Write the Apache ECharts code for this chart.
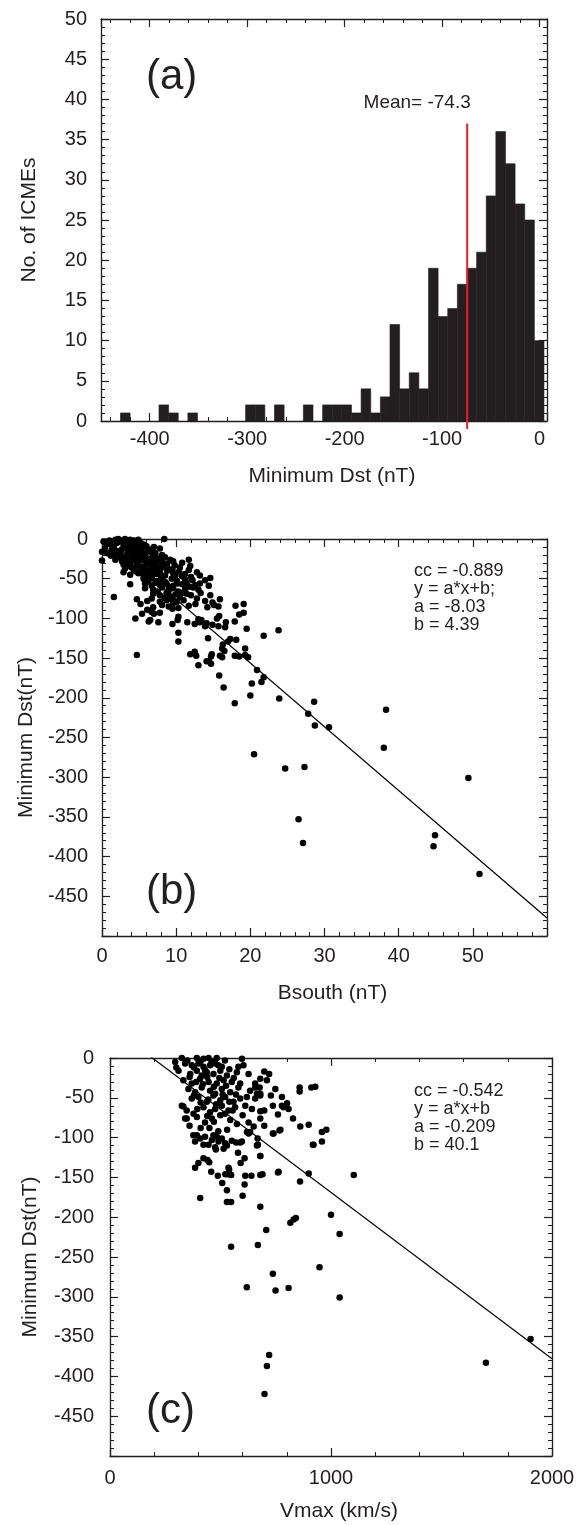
<!DOCTYPE html>
<html><head><meta charset="utf-8">
<script src="https://cdn.jsdelivr.net/npm/echarts@6/dist/echarts.min.js"></script>
<style>html,body{margin:0;padding:0;background:#fff}#c{width:581px;height:1525px}</style>
</head><body><div id="c"></div>
<script>
// ---------- Panel (a): histogram of minimum Dst ----------
const histCounts = [1,0,0,0,2,1,0,1,0,0,0,0,0,2,2,0,2,0,0,2,0,2,2,2,1,4,1,3,12,4,6,4,19,13,14,17,19,21,28,36,32,27,25,10];
const histRange = [-430, 4.5];          // outer edges of the 44 bins
const meanDst = -74.3;
const meanLineSpan = [37, -1];          // red line from count 37 down past the axis
const histXRange = [-450, 7.6];
const histYRange = [0, 50];

// ---------- Panel (b): Bsouth vs minimum Dst ----------
const bPts = [
[0.2,-3],[1.8,-1],[2.2,0],[2.7,-2],[3.1,0],[3.8,-1],[4.3,-2],[4.9,-1],[8.4,0],
[1.1,-6],[2.0,-5],[2.9,-7],[3.6,-6],[4.3,-8],[5.2,-5],[5.6,-7],
[0.4,-12],[1.6,-11],[2.7,-13],[3.1,-10],[4.0,-12],[4.7,-14],[5.6,-11],[6.7,-13],[7.8,-12],
[0.0,-16],[0.7,-18],[2.5,-17],[3.4,-19],[3.8,-16],[4.5,-18],[5.2,-17],[5.8,-19],[6.5,-16],[7.2,-18],[8.1,-20],
[2.2,-22],[3.1,-24],[4.0,-21],[4.7,-23],[5.6,-22],[6.3,-25],[6.9,-21],[7.4,-24],[8.5,-23],
[0.0,-27],[1.8,-26],[2.7,-28],[3.1,-29],[4.3,-27],[5.2,-26],[5.8,-28],[6.5,-30],[7.4,-27],[8.1,-29],[9.2,-26],[9.6,-28],[10.8,-30],[11.7,-26],
[2.9,-32],[3.4,-34],[3.8,-31],[4.7,-33],[5.4,-35],[6.1,-32],[6.7,-34],[7.2,-31],[7.6,-35],[8.3,-33],[11.9,-34],
[3.1,-37],[4.3,-39],[5.2,-36],[5.8,-38],[6.3,-40],[6.9,-37],[7.4,-39],[8.1,-36],[9.0,-38],[10.5,-36],[11.7,-39],
[2.9,-42],[3.8,-45],[4.9,-43],[5.6,-46],[6.3,-42],[6.7,-47],[7.4,-44],[7.8,-42],[8.5,-46],[9.6,-43],[10.8,-47],[12.8,-42],[13.2,-46],
[5.6,-50],[6.3,-52],[6.7,-49],[7.4,-53],[8.1,-51],[9.4,-50],[10.1,-53],[11.2,-51],[13.9,-52],[14.6,-49],
[3.8,-57],[5.8,-56],[6.7,-59],[7.2,-55],[7.8,-58],[8.7,-56],[9.6,-59],[10.8,-57],[11.4,-55],[12.6,-58],[13.2,-56],[14.4,-59],
[1.6,-73],[5.8,-62],[6.9,-64],[8.1,-61],[9.0,-65],[9.6,-62],[10.3,-66],[11.2,-63],[12.3,-61],[13.0,-64],
[6.9,-69],[7.8,-71],[8.7,-68],[9.2,-72],[9.9,-70],[10.5,-73],[11.4,-69],[14.6,-71],
[4.7,-76],[6.1,-78],[6.7,-75],[7.8,-79],[8.7,-77],[9.4,-76],[10.1,-79],[11.0,-77],[12.8,-75],[13.9,-78],[15.9,-76],
[5.2,-82],[6.9,-86],[8.1,-83],[9.0,-85],[9.6,-81],[10.3,-87],[11.7,-84],[12.6,-82],[14.2,-86],[15.1,-83],[15.7,-85],[18.0,-84],[19.1,-82],
[9.5,-88],[5.4,-94],[6.1,-89],[7.0,-94],[6.7,-92],[7.8,-93],[6.3,-104],[6.5,-102],[7.6,-105],[9.5,-107],[10.3,-98],[10.2,-102],
[11.5,-105],[12.5,-107],[13.2,-105],[13.0,-101],[13.4,-102],[14.1,-106],[13.9,-110],[14.9,-108],[15.7,-110],[14.9,-80],
[15.8,-97],[15.5,-100],[16.7,-105],[16.6,-111],[17.9,-104],[18.5,-95],[19.1,-93],[19.5,-113],[21.8,-122],[23.8,-115],
[10.3,-118],[10.3,-129],[14.3,-125],[17.0,-129],[16.3,-133],[17.3,-126],[18.1,-127],[16.2,-138],[16.5,-141],[15.9,-147],
[16.2,-149],[11.9,-145],[12.5,-142],[12.7,-147],[13.0,-159],[14.1,-154],[14.8,-145],[14.7,-148],[14.7,-157],[14.4,-154],
[17.9,-147],[18.5,-148],[19.3,-146],[19.7,-149],[19.3,-138],[20.9,-165],[21.8,-174],[21.5,-180],[20.2,-182],[15.8,-172],
[16.4,-187],[17.9,-207],[20.0,-197],[23.9,-201],[4.5,-100],[4.7,-146],
[28.6,-205],[27.8,-220],[28.7,-235],[30.6,-237],[38.3,-215],[38.0,-263],[20.5,-271],[24.7,-289],[27.3,-287],
[26.5,-353],[27.1,-383],[49.4,-301],[44.9,-373],[44.7,-387],[50.9,-422],
[1.0,-2],[1.4,-9],[2.4,-3],[3.4,-3],[4.0,-5],[4.6,-4],[0.6,-7],[1.3,-14],[2.0,-15],[3.5,-13],[5.0,-10],[6.0,-9],
[6.2,-14],[7.0,-10],[1.2,-21],[1.8,-19],[2.6,-24],[3.6,-27],[4.9,-30],[5.4,-20],[6.0,-24],[7.0,-28],[7.9,-26],
[8.8,-31],[9.8,-33],[4.0,-36],[4.6,-41],[5.5,-41],[6.0,-45],[7.0,-42],[8.0,-48],[8.8,-40],[9.5,-38],[9.9,-46],
[10.4,-41],[11.2,-44],[12.0,-48],[6.0,-54],[8.5,-54],[9.0,-60],[10.2,-56],[11.8,-60],[12.2,-52],[7.5,-66],
[8.4,-74],[10.8,-68],[12.0,-71],[13.3,-68]
];
const fitB = {cc: '-0.889', a: -8.03, b: 4.39, eq: 'y = a*x+b;'};
const bXRange = [0, 60];

// ---------- Panel (c): Vmax vs minimum Dst ----------
const cPts = [
[529,-181],[548,-181],[680,-187],[1000,-197],[816,-207],[831,-203],[841,-201],[707,-216],[1039,-221],[548,-237],
[669,-235],[948,-263],[737,-271],[619,-288],[749,-292],[808,-289],[1039,-301],[1903,-353],[1701,-383],[720,-373],
[710,-387],[699,-422],
[408,-176],[600,-173],[899,-145],[860,-155],[760,-144],[918,-109],[680,-147],[690,-146],[640,-148],[612,-148],
[609,-159],[529,-166],[508,-157],[488,-148],[458,-143],[522,-146],[534,-146],[548,-147],[539,-140],[536,-138],
[385,-138],[400,-132],[423,-126],[441,-128],[449,-131],[591,-132],[609,-126],[579,-119],[680,-123],[669,-109],
[571,-106],[597,-105],[479,-115],
[377,-97],[393,-97],[408,-101],[430,-99],[385,-105],[423,-109],[446,-109],[461,-103],[468,-97],[483,-99],
[491,-105],[506,-101],[521,-107],[514,-114],[476,-112],[740,-95],[767,-91],[620,-93],
[325,0],[393,0],[423,-1],[446,0],[483,0],[597,-1],
[295,-5],[340,-7],[370,-9],[400,-7],[423,-11],[453,-9],[476,-7],[506,-11],[581,-11],[604,-9],
[310,-16],[363,-20],[393,-16],[415,-22],[438,-18],[468,-20],[499,-16],[529,-22],[574,-18],[627,-20],[680,-26],
[332,-28],[370,-32],[408,-26],[446,-30],[483,-32],[514,-28],[551,-30],[589,-32],[657,-32],[710,-28],
[355,-39],[385,-43],[415,-37],[453,-41],[476,-45],[506,-39],[544,-43],[581,-37],[634,-41],[680,-45],
[370,-51],[400,-49],[438,-55],[468,-47],[499,-53],[521,-49],[559,-55],[589,-51],[619,-49],
[325,-60],[347,-66],[378,-70],[423,-62],[453,-68],[476,-64],[506,-60],[536,-66],[566,-62],[612,-60],[642,-64],
[340,-76],[393,-74],[430,-81],[461,-76],[499,-72],[544,-78],[574,-83],[627,-81],[680,-76],
[529,-110],[551,-104],[589,-106],[627,-95],[665,-110],
[698,-17],[720,-20],[657,-37],[677,-37],[665,-45],[680,-47],[657,-51],[748,-39],[728,-47],[778,-49],
[801,-57],[778,-60],[786,-62],[808,-64],[737,-60],[760,-71],[680,-67],[698,-66],[828,-76],[858,-37],
[858,-42],[911,-37],[929,-36],[861,-86],[899,-84],[771,-90],[737,-95],[698,-85],[650,-86],[959,-93],
[979,-90],[921,-109],[959,-105],[668,-101],[668,-109],[680,-123],[634,-93],[763,-143],[1103,-147],
[300,-12],[332,-61],[347,-76],
[350,-3],[380,-12],[410,-4],[430,-15],[460,-4],[490,-9],[520,-3],[540,-14],[360,-24],[390,-30],[420,-33],
[440,-24],[470,-36],[495,-25],[525,-35],[560,-25],[380,-47],[410,-56],[445,-52],[480,-58],[510,-46],[540,-55],
[570,-46],[395,-64],[440,-73],[470,-80],[520,-70],[555,-66],[600,-72],[410,-88],[450,-88],[490,-92],[360,-85],[530,-90]
];
const fitC = {cc: '-0.542', a: -0.209, b: 40.1, eq: 'y = a*x+b'};
const cXRange = [0, 2000];
const dstRange = [-500, 0];

// ---------- styling ----------
const INK = '#231f20';
const FONT = 'Liberation Sans, Arial, sans-serif';
const lbl = (extra) => Object.assign({color: INK, fontSize: 20, fontFamily: FONT}, extra || {});

function axisBase(extra) {
  return Object.assign({
    type: 'value',
    axisLine: {show: true, onZero: false, lineStyle: {color: INK, width: 1.3}},
    axisTick: {show: true, inside: true, length: 8, lineStyle: {color: INK, width: 1.2}},
    minorTick: {show: true, splitNumber: 5, length: 4, lineStyle: {color: INK, width: 1}},
    splitLine: {show: false},
    minorSplitLine: {show: false}
  }, extra);
}
function mirror(a, pos) {
  const m = Object.assign({}, a);
  m.position = pos; m.axisLabel = {show: false}; m.name = '';
  return m;
}

const xAxes = [], yAxes = [];
// (a)
const xa = axisBase({gridIndex: 0, min: histXRange[0], max: histXRange[1], splitNumber: 5, position: 'bottom',
  axisLabel: lbl({margin: 8, showMinLabel: false, showMaxLabel: false,
    formatter: v => (Math.abs(v % 100) < 1e-6 ? String(v) : '')}),
  name: 'Minimum Dst (nT)', nameLocation: 'middle', nameGap: 45, nameTextStyle: lbl({fontSize: 21, padding: [0,0,0,16]})});
const ya = axisBase({gridIndex: 0, min: histYRange[0], max: histYRange[1], interval: 5, position: 'left',
  axisLabel: lbl({margin: 14}),
  name: 'No. of ICMEs', nameLocation: 'middle', nameGap: 61, nameTextStyle: lbl({fontSize: 21})});
xAxes.push(xa, mirror(xa, 'top')); yAxes.push(ya, mirror(ya, 'right'));
// (b)
const xb = axisBase({gridIndex: 1, min: bXRange[0], max: bXRange[1], interval: 10, position: 'bottom',
  axisLabel: lbl({margin: 10, showMaxLabel: false, formatter: v => (v >= 60 ? '' : String(v))}),
  name: 'Bsouth (nT)', nameLocation: 'middle', nameGap: 47, nameTextStyle: lbl({fontSize: 21, padding: [0,0,0,16]})});
const yb = axisBase({gridIndex: 1, min: dstRange[0], max: dstRange[1], interval: 50, position: 'left',
  axisLabel: lbl({margin: 14, showMinLabel: false, formatter: v => (v <= -500 ? '' : String(v))}),
  name: 'Minimum Dst(nT)', nameLocation: 'middle', nameGap: 63, nameTextStyle: lbl({fontSize: 21})});
xAxes.push(xb, mirror(xb, 'top')); yAxes.push(yb, mirror(yb, 'right'));
// (c)
const xc = axisBase({gridIndex: 2, min: cXRange[0], max: cXRange[1], interval: 1000, position: 'bottom',
  axisLabel: lbl({margin: 12, formatter: v => String(v)}),
  name: 'Vmax (km/s)', nameLocation: 'middle', nameGap: 45, nameTextStyle: lbl({fontSize: 21, padding: [0,0,0,16]})});
const yc = axisBase({gridIndex: 2, min: dstRange[0], max: dstRange[1], interval: 50, position: 'left',
  axisLabel: lbl({margin: 16, showMinLabel: false, formatter: v => (v <= -500 ? '' : String(v))}),
  name: 'Minimum Dst(nT)', nameLocation: 'middle', nameGap: 69, nameTextStyle: lbl({fontSize: 21})});
xAxes.push(xc, mirror(xc, 'top')); yAxes.push(yc, mirror(yc, 'right'));

// histogram bins
const nBins = histCounts.length;
const binW = (histRange[1] - histRange[0]) / nBins;
const histData = histCounts.map((n, i) => [histRange[0] + i * binW, histRange[0] + (i + 1) * binW, n]).filter(d => d[2] > 0);

function fitLine(f, xr) { return [[xr[0], f.a * xr[0] + f.b], [xr[1], f.a * xr[1] + f.b]]; }

const textEl = (t, left, top, size) => ({type: 'text', left: left, top: top, silent: true,
  style: {text: t, font: `${size}px ${FONT}`, fill: INK}});

const option = {
  animation: false,
  backgroundColor: '#fff',
  grid: [
    {left: 101, top: 19, width: 446, height: 402},
    {left: 102, top: 539, width: 445, height: 397},
    {left: 110, top: 1058, width: 442, height: 398}
  ],
  xAxis: xAxes,
  yAxis: yAxes,
  graphic: [
    textEl('(a)', 146, 56, 42),
    textEl('(b)', 146, 871, 42),
    textEl('(c)', 146, 1390, 42),
    textEl(['cc = ' + fitB.cc, fitB.eq, 'a = ' + fitB.a, 'b = ' + fitB.b].join('\n'), 414, 562, 18),
    textEl(['cc = ' + fitC.cc, fitC.eq, 'a = ' + fitC.a, 'b = ' + fitC.b].join('\n'), 414, 1082, 18)
  ],
  series: [
    {type: 'custom', xAxisIndex: 0, yAxisIndex: 0, data: histData, encode: {x: [0, 1], y: 2},
      renderItem: (params, api) => {
        const p0 = api.coord([api.value(0), api.value(2)]);
        const p1 = api.coord([api.value(1), 0]);
        return {type: 'rect', shape: {x: p0[0], y: p0[1], width: p1[0] - p0[0], height: p1[1] - p0[1]},
          style: {fill: INK, stroke: INK, lineWidth: 0.6}};
      }},
    {type: 'line', xAxisIndex: 0, yAxisIndex: 0, clip: false, symbol: 'none', z: 5,
      lineStyle: {color: '#ee1c25', width: 2},
      data: [[meanDst, meanLineSpan[0]], [meanDst, meanLineSpan[1]]]},
    {type: 'scatter', xAxisIndex: 0, yAxisIndex: 0, symbolSize: 0, itemStyle: {color: INK},
      label: {show: true, position: 'top', offset: [-50, -6], formatter: 'Mean= ' + meanDst,
        color: INK, fontSize: 19, fontFamily: FONT, opacity: 1},
      data: [[meanDst, meanLineSpan[0]]]},
    {type: 'scatter', xAxisIndex: 2, yAxisIndex: 2, symbolSize: 6.5, itemStyle: {color: '#000', opacity: 1}, data: bPts},
    {type: 'line', xAxisIndex: 2, yAxisIndex: 2, symbol: 'none', clip: true,
      lineStyle: {color: '#000', width: 1.2}, data: fitLine(fitB, bXRange)},
    {type: 'scatter', xAxisIndex: 4, yAxisIndex: 4, symbolSize: 6.5, itemStyle: {color: '#000', opacity: 1}, data: cPts},
    {type: 'line', xAxisIndex: 4, yAxisIndex: 4, symbol: 'none', clip: true,
      lineStyle: {color: '#000', width: 1.2}, data: fitLine(fitC, cXRange)}
  ]
};
const chart = echarts.init(document.getElementById('c'), null, {renderer: 'canvas'});
chart.setOption(option);
</script></body></html>
